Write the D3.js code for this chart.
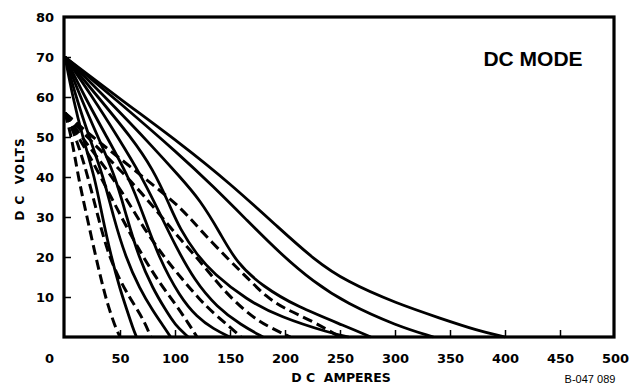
<!DOCTYPE html>
<html><head><meta charset="utf-8">
<script src="https://cdn.jsdelivr.net/npm/d3@7"></script>
<style>body{margin:0;background:#fff}svg{display:block}</style>
</head><body>
<svg id="chart" width="640" height="385"></svg>
<script>
// ---- data ----
const title = "DC MODE";
const xLabel = "D C  AMPERES";
const yLabel = "D C  VOLTS";
const figureId = "B-047 089";
const xTickValues = [0, 50, 100, 150, 200, 250, 300, 350, 400, 450, 500];
const yTickValues = [10, 20, 30, 40, 50, 60, 70, 80];

// solid curves: [amperes, volts]
const solid1 = [[0,70],[50,59.5],[104.5,48.5],[150,38.4],[195.5,27],[225.7,19.5],[256,13.8],[301.5,8.4],[341,4.7],[375,1.6],[400,0]];
const solid2 = [[0,70],[50,58.5],[104.5,45.5],[134.8,37.6],[165,29.3],[195.5,20.9],[225.7,13.8],[256,8.4],[301.5,2.8],[335,0]];
const solid3 = [[0,70],[40,59],[80,47.5],[104.5,40],[122.7,34.3],[141,26],[156,18.5],[180,12.6],[210.6,7.6],[256,2.6],[278,0]];
const solid4 = [[0,70],[30,60],[60,50],[80,42],[95,33],[104.5,27],[120,20.5],[134.8,15.9],[165,9.3],[195.5,5],[241,1],[258,0]];
const solid5 = [[0,70],[25,60],[48,50],[70,40],[86,31],[100,23],[118,14],[138,7.5],[160,3],[180,0]];
const solid6 = [[0,70],[18,60],[38,50],[58,40],[72,30],[85,20],[104.5,10],[120,5],[135,2],[150,0]];
const solid7 = [[0,70],[14,60],[30,50],[46,40],[56,30],[67,20],[80,12],[91,7],[100,3],[112,0]];
const solid8 = [[0,70],[10,60],[22,50],[35,40],[44,30],[55,20],[68,12],[80,6.5],[90,2.5],[96,0]];
const solid9 = [[0,70],[7,60],[16,50],[27,40],[34,30],[42,20],[50,12],[56,7],[62,2],[65,0]];
const solidCurves = [solid1, solid2, solid3, solid4, solid5, solid6, solid7, solid8, solid9];

// dashed curves
const dashed1 = [[0,56],[6,50],[12,40],[20,30],[28,20],[35,12],[39,8],[45,3],[50,0]];
const dashed2 = [[0,56],[10,50],[21,40],[30,30],[40,20],[52,13],[63,8],[72,4],[78,0]];
const dashed3 = [[0,56],[12,50],[25,44],[40,36],[55,28],[71,20],[86,13.5],[101,8],[112,3.5],[120,0]];
const dashed4 = [[0,56],[15,50],[35,43],[55,35],[72,27],[90,20],[107,14.3],[122.7,9.3],[134.8,6],[150,2.5],[160,0]];
const dashed5 = [[0,56],[20,50],[42,44],[65,37.5],[85,31],[104.5,24.5],[122.7,19],[141,12.6],[165,6],[185,2.5],[205,0]];
const dashed6 = [[0,56],[25,50],[53,44],[80,38],[104.5,32.6],[122.7,26.8],[150,19],[165,15],[183,10],[200,7],[225,4],[250,0]];
const dashedCurves = [dashed1, dashed2, dashed3, dashed4, dashed5, dashed6];

// ---- drawing ----
const svg = d3.select("#chart");
const x = d3.scaleLinear().domain([0, 500]).range([65, 615]);
const y = d3.scaleLinear().domain([0, 80]).range([337, 17]);

const line = d3.line().x(d => x(d[0])).y(d => y(d[1])).curve(d3.curveBasis);

const plot = svg.append("g");
plot.selectAll("path.solid").data(solidCurves).join("path")
  .attr("class","solid").attr("d", line)
  .attr("fill","none").attr("stroke","#000").attr("stroke-width",2.8)
  .attr("stroke-linejoin","round");
plot.selectAll("path.dashed").data(dashedCurves).join("path")
  .attr("class","dashed").attr("d", line)
  .attr("fill","none").attr("stroke","#000").attr("stroke-width",3)
  .attr("stroke-dasharray","10,5");

// axes
const fontNum = "'DejaVu Sans', sans-serif";
const xAxis = d3.axisBottom(x).tickValues(xTickValues).tickSize(-7).tickPadding(17).tickFormat(d3.format("d"));
const gx = svg.append("g").attr("transform", `translate(0,${y(0)})`).call(xAxis);
gx.select(".domain").remove();
gx.selectAll(".tick line").attr("stroke","#000").attr("stroke-width",1.5);
gx.selectAll(".tick text").attr("font-family", fontNum).attr("font-weight","bold")
  .attr("font-size", 13).attr("fill","#000");
gx.selectAll(".tick").filter(d => d === 0).select("text").attr("dx", -16);
gx.selectAll(".tick").filter(d => d === 0 || d === 500).select("line").remove();

const yAxis = d3.axisLeft(y).tickValues(yTickValues).tickSize(-6).tickPadding(11).tickFormat(d3.format("d"));
const gy = svg.append("g").attr("transform", `translate(${x(0)},0)`).call(yAxis);
gy.select(".domain").remove();
gy.selectAll(".tick line").attr("stroke","#000").attr("stroke-width",1.5);
gy.selectAll(".tick").filter(d => d === 80).select("line").remove();
gy.selectAll(".tick text").attr("font-family", fontNum).attr("font-weight","bold")
  .attr("font-size", 13).attr("fill","#000");

// frame
svg.append("rect").attr("x", x(0) - 1).attr("y", y(80)).attr("width", x(500) - x(0)).attr("height", y(0) - y(80))
  .attr("fill","none").attr("stroke","#000").attr("stroke-width",3.2);

// texts
svg.append("text").attr("x", 533).attr("y", 66).attr("text-anchor","middle")
  .attr("font-family","'Liberation Sans', Arial, sans-serif").attr("font-weight","bold")
  .attr("font-size", 21).text(title);
svg.append("text").attr("x", 341).attr("y", 382).attr("text-anchor","middle")
  .attr("font-family", fontNum).attr("font-weight","bold").attr("font-size", 12.5)
  .style("white-space","pre").text(xLabel);
svg.append("text").attr("transform","translate(24,179) rotate(-90)").attr("text-anchor","middle")
  .attr("font-family", fontNum).attr("font-weight","bold").attr("font-size", 12)
  .attr("letter-spacing", 1)
  .style("white-space","pre").text(yLabel);
svg.append("text").attr("x", 590).attr("y", 383).attr("text-anchor","middle")
  .attr("font-family","'Liberation Sans', Arial, sans-serif").attr("font-size", 11)
  .text(figureId);
</script>
</body></html>
